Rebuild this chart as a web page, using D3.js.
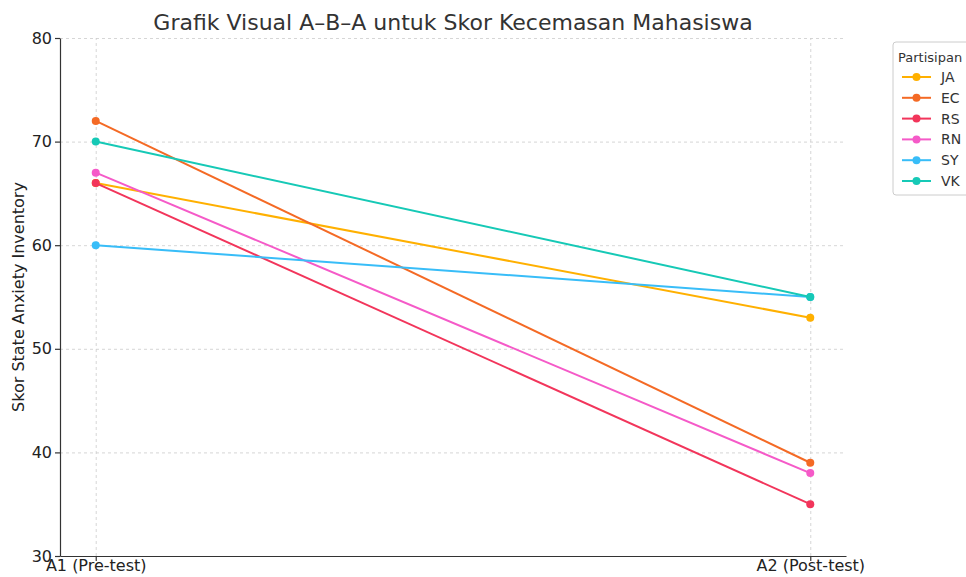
<!DOCTYPE html>
<html>
<head>
<meta charset="utf-8">
<script src="https://cdn.jsdelivr.net/npm/d3@7"></script>
<style>
  body { margin: 0; background: #fff; font-family: "DejaVu Sans", sans-serif; }
  .grid line { stroke: #cccccc; stroke-dasharray: 3,3; stroke-width: 0.8; }
  .grid path { display: none; }
  .axis text { font-size: 16px; fill: #222; font-family: "DejaVu Sans", sans-serif; }
  .axis path, .axis line { stroke: #333; stroke-width: 1.2; }
</style>
</head>
<body>
<script>
// chart data
var phases = ["A1 (Pre-test)", "A2 (Post-test)"];
var participants = ["JA", "EC", "RS", "RN", "SY", "VK"];
var preScores = [66, 72, 66, 67, 60, 70];
var postScores = [53, 39, 35, 38, 55, 55];
var colors = ["#ffb000", "#f46a25", "#f2355b", "#f55ac8", "#38bdf8", "#16c9b6"];
var yTicks = [30, 40, 50, 60, 70, 80];

var width = 966, height = 577;
var margin = {left: 60, right: 120, top: 38, bottom: 21};

var svg = d3.select("body").append("svg")
  .attr("width", width)
  .attr("height", height);

//x uses index with a small pad on each side
var x = d3.scaleLinear()
  .domain([-0.05, 1.05])
  .range([margin.left, width - margin.right]);

var y = d3.scaleLinear()
  .domain([30, 80])
  .range([height - margin.bottom, margin.top]);

//gridlines
svg.append("g")
  .attr("class", "grid")
  .attr("transform", "translate(0," + (height - margin.bottom) + ")")
  .call(d3.axisBottom(x).tickValues([0, 1]).tickSize(-(height - margin.bottom - margin.top)).tickFormat(""));

svg.append("g")
  .attr("class", "grid")
  .attr("transform", "translate(" + margin.left + ",0)")
  .call(d3.axisLeft(y).tickValues(yTicks).tickSize(-(width - margin.right - margin.left)).tickFormat(""));

//axes
svg.append("g")
  .attr("class", "axis")
  .attr("transform", "translate(0," + (height - margin.bottom) + ")")
  .call(d3.axisBottom(x).tickValues([0, 1]).tickSize(5).tickSizeOuter(0)
    .tickFormat(function(d) { return phases[d]; }))
  .selectAll("text").attr("dy", "0.45em");

svg.append("g")
  .attr("class", "axis")
  .attr("transform", "translate(" + margin.left + ",0)")
  .call(d3.axisLeft(y).tickValues(yTicks).tickSize(5).tickSizeOuter(0));

//lines and markers
var series = participants.map(function(p, i) {
  return {name: p, color: colors[i], values: [preScores[i], postScores[i]]};
});

var line = d3.line()
  .x(function(d, i) { return x(i); })
  .y(function(d) { return y(d); });

series.forEach(function(s) {
  svg.append("path")
    .datum(s.values)
    .attr("fill", "none")
    .attr("stroke", s.color)
    .attr("stroke-width", 2)
    .attr("d", line);

  svg.selectAll(null)
    .data(s.values)
    .enter()
    .append("circle")
    .attr("cx", function(d, i) { return x(i); })
    .attr("cy", function(d) { return y(d); })
    .attr("r", 4)
    .attr("fill", s.color);
});

//title and axis label
svg.append("text")
  .attr("x", 453)
  .attr("y", 30)
  .attr("text-anchor", "middle")
  .attr("font-size", 22)
  .attr("fill", "#333")
  .text("Grafik Visual A\u2013B\u2013A untuk Skor Kecemasan Mahasiswa");

svg.append("text")
  .attr("transform", "translate(24," + ((height - margin.bottom + margin.top) / 2) + ") rotate(-90)")
  .attr("text-anchor", "middle")
  .attr("font-size", 16)
  .attr("fill", "#222")
  .text("Skor State Anxiety Inventory");

//legend
var legend = svg.append("g").attr("transform", "translate(893,42)");
legend.append("rect")
  .attr("width", 90)
  .attr("height", 153)
  .attr("rx", 3)
  .attr("fill", "#fff")
  .attr("stroke", "#cccccc");

legend.append("text")
  .attr("x", 5)
  .attr("y", 20)
  .attr("font-size", 13)
  .attr("fill", "#333")
  .text("Partisipan");

var items = legend.selectAll(".item")
  .data(series)
  .enter()
  .append("g")
  .attr("transform", function(d, i) { return "translate(0," + (35 + i * 20.8) + ")"; });

items.append("line")
  .attr("x1", 9).attr("x2", 38)
  .attr("stroke", function(d) { return d.color; })
  .attr("stroke-width", 2);
items.append("circle")
  .attr("cx", 23.5).attr("r", 4)
  .attr("fill", function(d) { return d.color; });
items.append("text")
  .attr("x", 48)
  .attr("dy", "0.35em")
  .attr("font-size", 14)
  .attr("fill", "#333")
  .text(function(d) { return d.name; });
</script>
</body>
</html>
